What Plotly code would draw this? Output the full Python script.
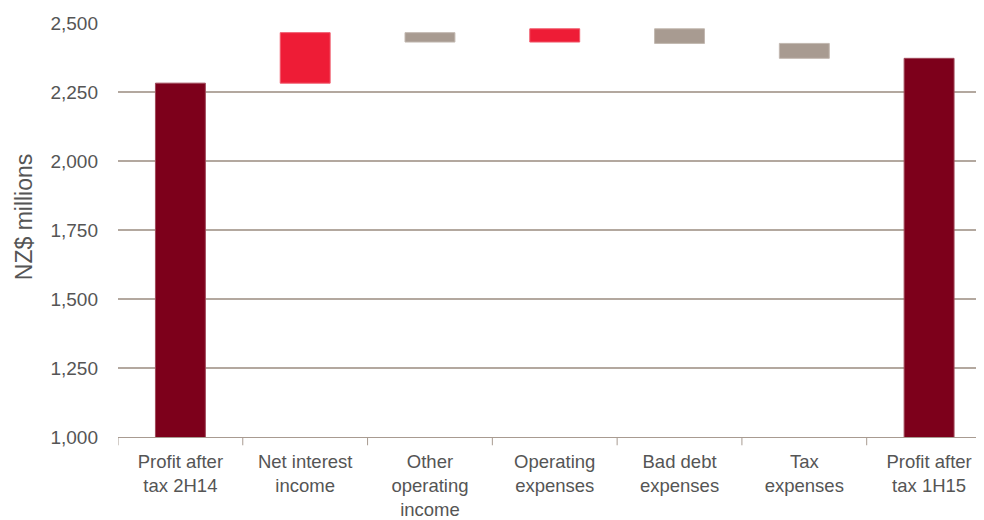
import plotly.graph_objects as go

categories = ["Profit after<br>tax 2H14", "Net interest<br>income", "Other<br>operating<br>income",
              "Operating<br>expenses", "Bad debt<br>expenses", "Tax<br>expenses", "Profit after<br>tax 1H15"]
changes = [2282, 183, -34, 48, -53, -54, 0]
measures = ["absolute", "relative", "relative", "relative", "relative", "relative", "total"]
y_ticks = [1000, 1250, 1500, 1750, 2000, 2250, 2500]

fig = go.Figure(go.Waterfall(
    x=list(range(len(categories))),
    y=changes,
    measure=measures,
    base=0,
    width=0.4,
    increasing=dict(marker=dict(color="#EE1C36", line=dict(color="#F05A6C", width=1))),
    decreasing=dict(marker=dict(color="#A89B91", line=dict(color="#C2B8B0", width=1))),
    totals=dict(marker=dict(color="#7D001B", line=dict(color="#A0485A", width=1))),
    connector=dict(visible=False),
    hoverinfo="skip",
))

fig.update_layout(
    width=976, height=512,
    margin=dict(l=110, r=0, t=15, b=83),
    plot_bgcolor="white", paper_bgcolor="white",
    font=dict(family="Liberation Sans, Arial, sans-serif", color="#555555"),
    showlegend=False,
    xaxis=dict(
        range=[-0.5, 6.44],
        tickmode="array", tickvals=list(range(len(categories))), ticktext=categories,
        showgrid=False, showline=True, linecolor="#A89B91", linewidth=1,
        ticks="", tickfont=dict(size=18.5, color="#555555"),
        zeroline=False, automargin=False, ticklabelstandoff=8,
    ),
    yaxis=dict(
        range=[1000, 2500],
        tickmode="array", tickvals=y_ticks,
        ticktext=[f"{v:,}" for v in y_ticks],
        showgrid=True, gridcolor="#B3A89F", gridwidth=1.5,
        showline=False, zeroline=False,
        tickfont=dict(size=19, color="#555555"),
        ticklabelstandoff=19, automargin=False,
    ),
    annotations=[dict(
        text="NZ$ millions", xref="paper", yref="paper", x=-0.1085, y=0.531,
        xanchor="center", yanchor="middle", textangle=-90, showarrow=False,
        font=dict(size=23, color="#555555"),
    )],
)

# category separator ticks on x axis
for i in range(len(categories)):
    fig.add_shape(type="line", xref="x", yref="paper", x0=i - 0.5, x1=i - 0.5, y0=0, y1=-0.02,
                  line=dict(color="#A89B91", width=1))

fig.write_html("out.html")
